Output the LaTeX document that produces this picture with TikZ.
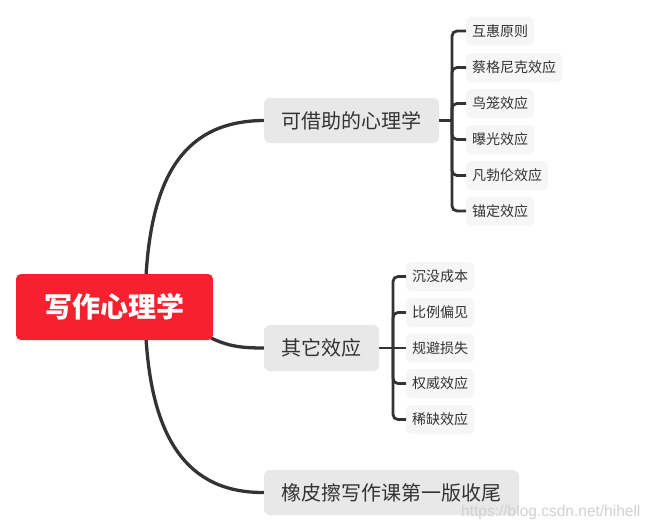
\documentclass[tikz,border=0pt]{standalone}
\usepackage{fontspec}
\setmainfont{Noto Sans CJK SC}
\newfontfamily\wmfont{Liberation Sans}
\definecolor{rootred}{RGB}{247,32,47}
\definecolor{linegray}{RGB}{51,51,51}
\definecolor{textgray}{RGB}{51,51,51}
\definecolor{mainfill}{RGB}{232,232,232}
\definecolor{subfill}{RGB}{246,246,246}
\begin{document}
\begin{tikzpicture}[x=1pt,y=-1pt,
  rootbox/.style={fill=rootred,rounded corners=5pt,text=white,font=\fontsize{28}{30}\selectfont\bfseries,minimum width=197pt,minimum height=66pt,inner sep=0pt},
  mainbox/.style={fill=mainfill,rounded corners=6pt,text=textgray,font=\fontsize{20}{22}\selectfont,minimum height=45pt,inner sep=0pt},
  subbox/.style={fill=subfill,rounded corners=5pt,text=textgray,font=\fontsize{14}{16}\selectfont,minimum height=29pt,inner xsep=6pt,inner ysep=0pt,anchor=west},
  conn/.style={draw=linegray,line width=3.3pt},
  brk/.style={draw=linegray,line width=2.8pt,rounded corners=5pt}]
\useasboundingbox (0,0) rectangle (653,530);
\fill[white] (0,0) rectangle (653,530);

% main connectors
\coordinate (rt) at (146,276);
\coordinate (rb) at (146,338);
\coordinate (rm) at (211,338);
\node[mainbox,minimum width=175pt] (m1) at (351.5,120.5) {可借助的心理学};
\node[mainbox,minimum width=115pt,minimum height=46pt] (m2) at (321.5,348) {其它效应};
\node[mainbox,minimum width=255pt] (m3) at (391.5,492.5) {橡皮擦写作课第一版收尾};
\draw[conn] (rt) .. controls (152,175) and (185,121) .. (m1.west);
\draw[conn] (rb) .. controls (152,435) and (185,493) .. (m3.west);
\draw[conn] (rm) .. controls (228,346) and (240,348) .. (m2.west);

\node[rootbox] (root) at (114.5,307) {写作心理学};

% group 1
\node[subbox] (a1) at (466,31) {互惠原则};
\node[subbox] (a2) at (466,67.5) {蔡格尼克效应};
\node[subbox] (a3) at (466,103.5) {鸟笼效应};
\node[subbox] (a4) at (466,139.5) {曝光效应};
\node[subbox] (a5) at (466,175.5) {凡勃伦效应};
\node[subbox] (a6) at (466,211) {锚定效应};
\coordinate (b1) at (452,120.5);
\draw[brk] (m1.east) -- (b1);
\foreach \s in {a1,a2,a3,a4,a5,a6} \draw[brk] (b1) |- (\s.west);

% group 2
\node[subbox] (c1) at (406,276.5) {沉没成本};
\node[subbox] (c2) at (406,312.5) {比例偏见};
\node[subbox] (c3) at (406,348) {规避损失};
\node[subbox] (c4) at (406,383.5) {权威效应};
\node[subbox] (c5) at (406,419.5) {稀缺效应};
\coordinate (b2) at (393,348);
\draw[brk] (m2.east) -- (b2);
\foreach \s in {c1,c2,c4,c5} \draw[brk] (b2) |- (\s.west);
\draw[brk] (b2) -- (c3.west);

% watermark
\node[anchor=west,text=black!18,font=\wmfont\fontsize{15.5}{17}\selectfont,inner sep=0pt] (wm) at (461,512) {https://blog.csdn.net/hihell};
\end{tikzpicture}
\end{document}
